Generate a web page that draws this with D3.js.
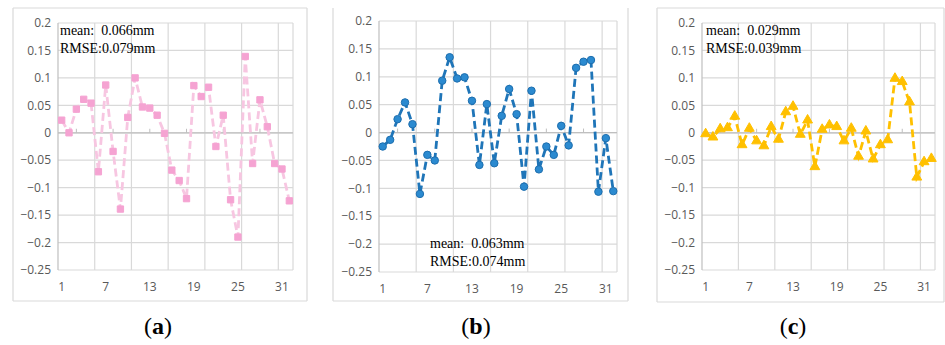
<!DOCTYPE html>
<html>
<head>
<meta charset="utf-8">
<script src="https://cdn.jsdelivr.net/npm/d3@7"></script>
<style>
  body { margin: 0; background: #fff; }
  svg { display: block; }
</style>
</head>
<body>
<div id="chart"></div>
<script>
// data
const categories = [1,2,3,4,5,6,7,8,9,10,11,12,13,14,15,16,17,18,19,20,21,22,23,24,25,26,27,28,29,30,31,32];
const xTickLabels = [1, 7, 13, 19, 25, 31];
const yTicks = [0.2, 0.15, 0.1, 0.05, 0, -0.05, -0.1, -0.15, -0.2, -0.25];

const errorsA = [0.023, 0.000, 0.043, 0.061, 0.054, -0.071, 0.087, -0.034, -0.139, 0.028,
  0.100, 0.047, 0.045, 0.032, -0.001, -0.068, -0.087, -0.120, 0.086, 0.066,
  0.083, -0.025, 0.032, -0.122, -0.190, 0.139, -0.056, 0.060, 0.011, -0.056,
  -0.066, -0.124];
const errorsB = [-0.025, -0.013, 0.024, 0.054, 0.015, -0.110, -0.040, -0.050, 0.093, 0.135,
  0.097, 0.099, 0.057, -0.058, 0.051, -0.055, 0.030, 0.078, 0.033, -0.097,
  0.075, -0.066, -0.025, -0.040, 0.012, -0.023, 0.116, 0.127, 0.130, -0.106,
  -0.010, -0.105];
const errorsC = [-0.002, -0.008, 0.007, 0.009, 0.030, -0.022, 0.008, -0.015, -0.024, 0.011,
  -0.012, 0.038, 0.048, -0.003, 0.023, -0.062, 0.006, 0.014, 0.011, -0.015,
  0.008, -0.043, 0.003, -0.048, -0.022, -0.013, 0.099, 0.093, 0.056, -0.081,
  -0.053, -0.047];

const statsA = ['mean:  0.066mm', 'RMSE:0.079mm'];
const statsB = ['mean:  0.063mm', 'RMSE:0.074mm'];
const statsC = ['mean:  0.029mm', 'RMSE:0.039mm'];
const captions = ['a', 'b', 'c'];

const width = 945, height = 345;
const svg = d3.select('#chart').append('svg')
  .attr('width', width)
  .attr('height', height);

const panels = [
  { values: errorsA, stats: statsA, caption: captions[0],
    box: [13, 8, 307, 301], topBorder: true,
    plot: { l: 58, r: 293, t: 23, b: 270 },
    statsPos: [60, 35], capX: 158,
    line: '#f7c6e1', fill: '#f5a3d2', stroke: '#f5a3d2', shape: d3.symbolSquare, size: 40 },
  { values: errorsB, stats: statsB, caption: captions[1],
    box: [333, 8, 628, 301], topBorder: false,
    plot: { l: 379, r: 617, t: 21, b: 272 },
    statsPos: [430, 248], capX: 476,
    line: '#1f75b8', fill: '#2b8ad0', stroke: '#1d6eae', shape: d3.symbolCircle, size: 44 },
  { values: errorsC, stats: statsC, caption: captions[2],
    box: [657, 8, 944, 302], topBorder: true,
    plot: { l: 702, r: 935, t: 23, b: 270 },
    statsPos: [706, 35], capX: 793,
    line: '#ffc000', fill: '#ffc000', stroke: '#ffc000', shape: d3.symbolTriangle, size: 42 }
];

panels.forEach(p => {
  const g = svg.append('g');
  const [bx0, by0, bx1, by1] = p.box;

  // outer frame
  const frame = g.append('g').attr('stroke', '#d9d9d9').attr('stroke-width', 1.2).attr('fill', 'none');
  frame.append('line').attr('x1', bx0).attr('x2', bx0).attr('y1', by0).attr('y2', by1);
  frame.append('line').attr('x1', bx1).attr('x2', bx1).attr('y1', by0).attr('y2', by1);
  frame.append('line').attr('x1', bx0).attr('x2', bx1).attr('y1', by1).attr('y2', by1);
  if (p.topBorder) frame.append('line').attr('x1', bx0).attr('x2', bx1).attr('y1', by0).attr('y2', by0);

  const x = d3.scaleLinear().domain([0.5, categories.length + 0.5]).range([p.plot.l, p.plot.r]);
  const y = d3.scaleLinear().domain([-0.25, 0.2]).range([p.plot.b, p.plot.t]);

  // horizontal gridlines
  g.append('g').selectAll('line').data(yTicks).join('line')
    .attr('x1', p.plot.l).attr('x2', p.plot.r)
    .attr('y1', d => y(d)).attr('y2', d => y(d))
    .attr('stroke', '#d9d9d9').attr('stroke-width', 1.2);

  // vertical gridlines every 5 categories
  const vgrid = [0.5, 5.5, 10.5, 15.5, 20.5, 25.5, 30.5, 32.5];
  g.append('g').selectAll('line').data(vgrid).join('line')
    .attr('x1', d => x(d)).attr('x2', d => x(d))
    .attr('y1', p.plot.t).attr('y2', p.plot.b)
    .attr('stroke', d => d === 0.5 ? '#bfbfbf' : '#d9d9d9').attr('stroke-width', 1.2);

  // zero axis with small ticks
  g.append('line')
    .attr('x1', p.plot.l).attr('x2', p.plot.r)
    .attr('y1', y(0)).attr('y2', y(0))
    .attr('stroke', '#bfbfbf').attr('stroke-width', 1.2);
  g.append('g').selectAll('line').data([3, 8, 13, 18, 23, 28]).join('line')
    .attr('x1', d => x(d)).attr('x2', d => x(d))
    .attr('y1', y(0)).attr('y2', y(0) - 4)
    .attr('stroke', '#bfbfbf').attr('stroke-width', 1);

  // y tick labels
  g.append('g').selectAll('text').data(yTicks).join('text')
    .attr('x', p.plot.l - 7)
    .attr('y', d => y(d))
    .attr('dy', '0.35em')
    .attr('text-anchor', 'end')
    .attr('font-family', '"Open Sans", "Noto Sans", sans-serif')
    .attr('font-size', 12)
    .attr('fill', '#595959')
    .text(d => d3.format('')(+d.toFixed(2)));

  // x tick labels
  g.append('g').selectAll('text').data(xTickLabels).join('text')
    .attr('x', d => x(d))
    .attr('y', p.plot.b + 21)
    .attr('text-anchor', 'middle')
    .attr('font-family', '"Open Sans", "Noto Sans", sans-serif')
    .attr('font-size', 12)
    .attr('fill', '#595959')
    .text(d => d);

  // dashed series line
  const line = d3.line().x((d, i) => x(categories[i])).y(d => y(d));
  g.append('path')
    .datum(p.values)
    .attr('d', line)
    .attr('fill', 'none')
    .attr('stroke', p.line)
    .attr('stroke-width', 2.8)
    .attr('stroke-dasharray', '8,4');

  // markers
  const sym = d3.symbol().type(p.shape).size(p.size);
  g.append('g').selectAll('path').data(p.values).join('path')
    .attr('d', sym)
    .attr('transform', (d, i) => `translate(${x(categories[i])},${y(d)})`)
    .attr('fill', p.fill)
    .attr('stroke', p.stroke)
    .attr('stroke-width', 1);

  // mean / RMSE annotation
  g.append('g').selectAll('text').data(p.stats).join('text')
    .attr('x', p.statsPos[0])
    .attr('y', (d, i) => p.statsPos[1] + i * 18)
    .attr('font-family', '"Liberation Serif", "Times New Roman", serif')
    .attr('font-size', 14)
    .attr('fill', '#000')
    .style('white-space', 'pre')
    .text(d => d);

  // caption
  const cap = g.append('text')
    .attr('x', p.capX)
    .attr('y', 334)
    .attr('text-anchor', 'middle')
    .attr('font-family', '"Liberation Serif", "Times New Roman", serif')
    .attr('font-size', 24)
    .attr('fill', '#000');
  cap.append('tspan').text('(');
  cap.append('tspan').attr('font-weight', 'bold').text(p.caption);
  cap.append('tspan').text(')');
});
</script>
</body>
</html>
